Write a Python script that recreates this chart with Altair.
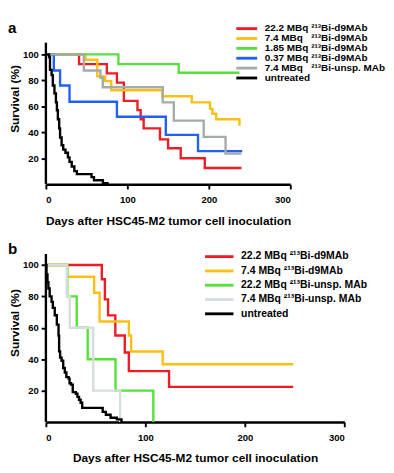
import altair as alt
import pandas as pd

FONT = "Liberation Sans"

# ---------------- Panel a ----------------
A_NAMES = ["22.2 MBq ²¹³Bi-d9MAb", "7.4 MBq ²¹³Bi-d9MAb", "1.85 MBq ²¹³Bi-d9MAb",
           "0.37 MBq ²¹³Bi-d9MAb", "7.4 MBq ²¹³Bi-unsp. MAb", "untreated"]
A_DOSE = ["22.2 MBq", "7.4 MBq", "1.85 MBq", "0.37 MBq", "7.4 MBq", "untreated"]
A_AGENT = ["²¹³Bi-d9MAb", "²¹³Bi-d9MAb", "²¹³Bi-d9MAb", "²¹³Bi-d9MAb", "²¹³Bi-unsp. MAb", ""]
A_COLORS = ["#ee1c24", "#fbbf14", "#55e03c", "#2061f0", "#a3abab", "#000000"]

a_red_days = [0, 40.7, 74.8, 87.2, 95.7, 112.4, 116.3, 120, 140, 150, 165.5, 195, 240]
a_red_pct = [100, 92.5, 85.3, 78.2, 64.2, 57.1, 50, 43, 34.5, 27.7, 20, 12.5, 12.5]
a_yel_days = [0, 48.4, 63.1, 72.8, 80.2, 143, 179, 201.5, 204.4, 209, 237.6]
a_yel_pct = [100, 95.8, 83, 79.4, 72.4, 67.7, 63, 58, 54.3, 50, 45]
a_grn_days = [0, 89, 163, 237.6]
a_grn_pct = [100, 92.5, 85.8, 85.8]
a_blu_days = [0, 9.7, 17.4, 29, 87.2, 147.2, 186.7, 241]
a_blu_pct = [100, 87.6, 76, 63.5, 52, 38, 25.5, 25.5]
a_gry_days = [0, 46.5, 67, 69.8, 143.4, 157, 193.7, 220.5, 240]
a_gry_pct = [100, 87.6, 82, 74.7, 63, 49, 36.5, 23.7, 23.7]
a_blk_days = [0, 3.8, 5, 7, 8.5, 10.5, 12.3, 13.5, 14.7, 16.3, 17.4, 19.3, 21.3, 24, 27,
              29, 31.7, 34.9, 38, 56, 59, 70, 75.6]
a_blk_pct = [100, 98, 88, 84, 76, 70, 63, 57, 50, 43, 36, 30, 26.6, 24.2, 20.7,
             17.2, 13.7, 10.1, 7.8, 5.5, 3.1, 0.8, 0]

# ---------------- Panel b ----------------
B_NAMES = ["22.2 MBq ²¹³Bi-d9MAb ", "7.4 MBq ²¹³Bi-d9MAb ", "22.2 MBq ²¹³Bi-unsp. MAb ",
           "7.4 MBq ²¹³Bi-unsp. MAb ", "untreated "]
B_COLORS = ["#ee1c24", "#fbbf14", "#55e03c", "#d6dddd", "#000000"]

b_red_days = [0, 56.2, 59.3, 62.5, 69.8, 79.3, 83.4, 123.8, 248.6]
b_red_pct = [100, 90.9, 78.1, 67.9, 55.1, 44.3, 32.4, 22.4, 22.4]
b_yel_days = [0, 21.5, 48.5, 54, 83.4, 85.7, 117.4, 248.6]
b_yel_pct = [100, 92.5, 82.3, 64, 55.1, 44.9, 36.8, 36.8]
b_grn_days = [0, 21.5, 31, 42, 70, 108]
b_grn_pct = [100, 80, 60, 40, 20, 0]
b_gry_days = [0, 21, 24, 47.6, 74.6]
b_gry_pct = [100, 80, 60, 20, 0]
b_blk_days = [0, 0.6, 1.6, 2.5, 3.8, 5.7, 7, 8.9, 11, 12.7, 13.3, 14.3, 15.8, 17.4, 19,
              20.6, 22.9, 23.8, 25.3, 27, 30.1, 31.7, 33.3, 34.9, 36.5, 57.1, 60.3, 65,
              71.4, 76]
b_blk_pct = [100, 94, 89, 85, 80, 76.5, 72.7, 68, 62, 55, 45, 41, 39, 34.4, 31.5,
             28.6, 27.6, 24.7, 23.8, 19, 18, 16, 14.2, 12.3, 9, 6.5, 4.6, 2.7, 1.7, 0]

X_TICKS = [0, 100, 200, 300]
Y_TICKS = [20, 40, 60, 80, 100]
X_TITLE = "Days after HSC45-M2 tumor cell inoculation"
Y_TITLE = "Survival (%)"


def build(names, series, field):
    rows = []
    for k, (name, (days, pcts)) in enumerate(zip(names, series)):
        for d, p in zip(days, pcts):
            rows.append({field: name, "day": d, "pct": p, "k": k})
    return pd.DataFrame(rows)


df_a = build(A_NAMES, [(a_red_days, a_red_pct), (a_yel_days, a_yel_pct),
                       (a_grn_days, a_grn_pct), (a_blu_days, a_blu_pct),
                       (a_gry_days, a_gry_pct), (a_blk_days, a_blk_pct)], "sa")
df_b = build(B_NAMES, [(b_red_days, b_red_pct), (b_yel_days, b_yel_pct),
                       (b_grn_days, b_grn_pct), (b_gry_days, b_gry_pct),
                       (b_blk_days, b_blk_pct)], "sb")


def panel(df, field, names, colors, width, height, ytop, axis_top, label, label_pct,
          title_y, leg_top, leg_step, rx0, rx1, tx, fsize, columns):
    cscale = alt.Scale(domain=names, range=colors)
    yscale = alt.Scale(domain=[0, ytop], nice=False, zero=True)
    yaxis = alt.Axis(values=Y_TICKS, title=Y_TITLE, titleY=title_y,
                     titleAlign="center", titleAngle=270, titleBaseline="bottom",
                     domain=False)
    xenc = alt.X("day:Q", scale=alt.Scale(domain=[0, 300], nice=False),
                 axis=alt.Axis(values=X_TICKS, title=X_TITLE))
    lines = alt.Chart(df).mark_line(interpolate="step-after", strokeWidth=2.5).encode(
        x=xenc,
        y=alt.Y("pct:Q", scale=yscale, axis=yaxis),
        color=alt.Color(f"{field}:N", scale=cscale, legend=None),
        detail="k:N",
    )
    # y axis line (stops just above 100 %)
    yline = alt.Chart(pd.DataFrame({"day": [0], "pct": [0], "pct2": [axis_top]})).mark_rule(
        strokeWidth=2.5, color="#000000").encode(
        x=xenc, y=alt.Y("pct:Q", scale=yscale, axis=yaxis), y2="pct2:Q")
    ldf = pd.DataFrame({field: names,
                        "pct": [leg_top - leg_step * i for i in range(len(names))],
                        "c0": [c[0] for c in columns], "c1": [c[1] for c in columns]})
    yenc = alt.Y("pct:Q", scale=yscale, axis=yaxis)
    rules = alt.Chart(ldf).mark_rule(strokeWidth=3).encode(
        x=alt.value(rx0), x2=alt.value(rx1), y=yenc,
        color=alt.Color(f"{field}:N", scale=cscale, legend=None))
    txt0 = alt.Chart(ldf).mark_text(align="left", baseline="middle", font=FONT,
                                    fontWeight="bold", fontSize=fsize, color="#000000").encode(
        x=alt.value(tx[0]), y=yenc, text="c0:N")
    layers = [lines, yline, rules, txt0]
    if len(tx) > 1:
        txt1 = alt.Chart(ldf).mark_text(align="left", baseline="middle", font=FONT,
                                        fontWeight="bold", fontSize=fsize,
                                        color="#000000").encode(
            x=alt.value(tx[1]), y=yenc, text="c1:N")
        layers.append(txt1)
    lab = alt.Chart(pd.DataFrame({"t": [label], "pct": [label_pct]})).mark_text(
        align="left", baseline="alphabetic", font=FONT, fontWeight="bold",
        fontSize=16, color="#000000").encode(
        x=alt.value(-40), y=yenc, text="t:N")
    layers.append(lab)
    return alt.layer(*layers).properties(width=width, height=height)


pa = panel(df_a, "sa", A_NAMES, A_COLORS, 258, 167, 121.8, 109, "a", 116.3, 76.5,
           119.8, 7.6, 201, 223, [231, 280], 10.5,
           list(zip(A_DOSE, A_AGENT)))
pb = panel(df_b, "sb", B_NAMES, B_COLORS, 315, 188, 113.4, 107, "b", 107, 83,
           105.3, 9.1, 168, 198, [206], 11,
           [(n.strip(), "") for n in B_NAMES])

chart = alt.vconcat(pa, pb, spacing=15).resolve_scale(color="independent").properties(
    padding=0
).configure_view(stroke=None).configure_axis(
    grid=False, domainColor="#000000", domainWidth=2.5, tickColor="#000000",
    tickWidth=2, tickSize=5, labelFont=FONT, labelFontWeight="bold", labelFontSize=10,
    labelColor="#000000", titleFont=FONT, titleFontWeight="bold", titleFontSize=12.5,
    titleColor="#000000", labelPadding=3,
).configure_axisX(titlePadding=11, labelPadding=6).configure_axisY(titlePadding=1)

chart.save("out.html", embed_options={"renderer": "svg", "actions": False})
